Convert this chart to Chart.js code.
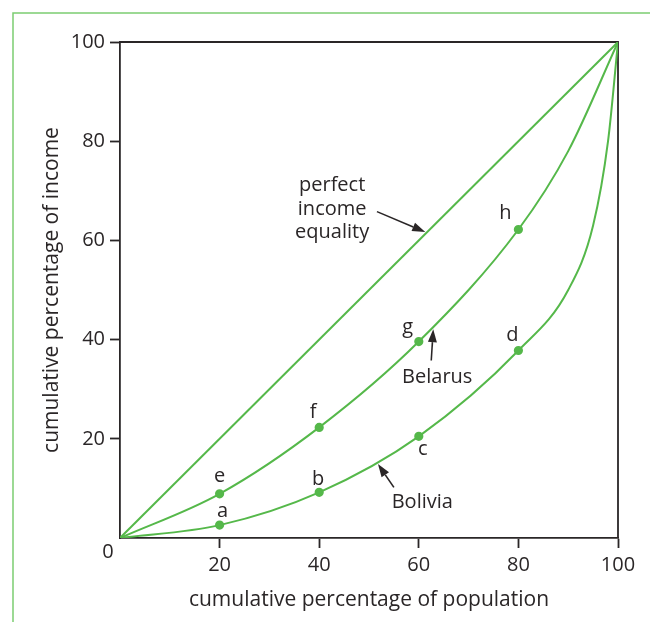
<!DOCTYPE html>
<html>
<head>
<meta charset="utf-8">
<script src="https://cdn.jsdelivr.net/npm/chart.js@4"></script>
<style>
  body { margin: 0; background: #fff; }
  #wrap { width: 650px; height: 622px; }
</style>
</head>
<body>
<div id="wrap"><canvas id="lorenzChart"></canvas></div>
<script>
// dati (percentuali cumulative)
const equalityX = [0, 100];
const equalityY = [0, 100];

const belarusX = [0, 20, 40, 60, 80, 90, 100];
const belarusY = [0, 8.9, 22.3, 39.6, 62.2, 78, 100];
const belarusMarks = ['', 'e', 'f', 'g', 'h', '', ''];

const boliviaX = [0, 20, 40, 60, 80, 90, 95, 98, 100];
const boliviaY = [0, 2.6, 9.2, 20.5, 37.8, 50, 63, 80, 100];
const boliviaMarks = ['', 'a', 'b', 'c', 'd', '', '', '', ''];

const tickValues = [0, 20, 40, 60, 80, 100];

const GREEN = '#55b84a';
const INK = '#2a2627';
const FONT = "'Open Sans', sans-serif";

// posizione delle lettere rispetto al punto (pixel, linea di base)
const markOffsets = {
  a: [3, -8], b: [-1, -7], c: [4, 19], d: [-6, -10],
  e: [0, -12], f: [-6, -9], g: [-11, -9], h: [-13, -10]
};

// testi e frecce in coordinate dei dati
const notes = [
  { text: 'perfect', x: 42.6, y: 69.9 },
  { text: 'income', x: 42.6, y: 65.2 },
  { text: 'equality', x: 42.6, y: 60.4 },
  { text: 'Belarus', x: 63.7, y: 31.2 },
  { text: 'Bolivia', x: 60.7, y: 6.0 }
];
const arrows = [
  { from: [51.6, 65.8], to: [61.3, 61.7] },
  { from: [62.5, 35.8], to: [62.9, 42.1] },
  { from: [55.0, 10.2], to: [51.8, 14.9] }
];

const toPoints = (xs, ys) => xs.map((x, i) => ({ x: x, y: ys[i] }));

const extras = {
  id: 'extras',
  beforeDraw(chart) {
    const c = chart.ctx;
    c.save();
    c.strokeStyle = '#7ccd72';
    c.lineWidth = 1.5;
    c.beginPath();
    c.moveTo(13, 622);
    c.lineTo(13, 13);
    c.lineTo(650, 13);
    c.stroke();
    c.restore();
  },
  beforeDatasetsDraw(chart) {
    const a = chart.chartArea;
    const c = chart.ctx;
    c.save();
    c.strokeStyle = INK;
    c.lineWidth = 1.8;
    c.beginPath();
    c.moveTo(a.left, a.top);
    c.lineTo(a.right, a.top);
    c.lineTo(a.right, a.bottom);
    c.stroke();
    c.restore();
  },
  afterDatasetsDraw(chart) {
    const c = chart.ctx;
    const xs = chart.scales.x;
    const ys = chart.scales.y;
    c.save();
    c.fillStyle = INK;
    c.font = '20px ' + FONT;
    c.textAlign = 'center';
    c.textBaseline = 'alphabetic';

    // lettere sui punti
    const drawMarks = (xArr, yArr, marks) => {
      marks.forEach((m, i) => {
        if (!m) return;
        const off = markOffsets[m];
        c.fillText(m, xs.getPixelForValue(xArr[i]) + off[0], ys.getPixelForValue(yArr[i]) + off[1]);
      });
    };
    drawMarks(belarusX, belarusY, belarusMarks);
    drawMarks(boliviaX, boliviaY, boliviaMarks);

    notes.forEach(n => {
      c.fillText(n.text, xs.getPixelForValue(n.x), ys.getPixelForValue(n.y));
    });

    // zero all'origine
    c.textBaseline = 'middle';
    c.fillText('0', xs.getPixelForValue(0) - 12, ys.getPixelForValue(0) + 14);

    // frecce
    c.strokeStyle = INK;
    c.lineWidth = 1.6;
    arrows.forEach(ar => {
      const x1 = xs.getPixelForValue(ar.from[0]), y1 = ys.getPixelForValue(ar.from[1]);
      const x2 = xs.getPixelForValue(ar.to[0]), y2 = ys.getPixelForValue(ar.to[1]);
      const ang = Math.atan2(y2 - y1, x2 - x1);
      const len = 13, half = 4.5;
      const bx = x2 - len * Math.cos(ang), by = y2 - len * Math.sin(ang);
      c.beginPath();
      c.moveTo(x1, y1);
      c.lineTo(bx, by);
      c.stroke();
      c.beginPath();
      c.moveTo(x2, y2);
      c.lineTo(bx + half * Math.sin(ang), by - half * Math.cos(ang));
      c.lineTo(bx - half * Math.sin(ang), by + half * Math.cos(ang));
      c.closePath();
      c.fill();
    });
    c.restore();
  }
};

const lineStyle = {
  borderColor: GREEN,
  backgroundColor: GREEN,
  borderWidth: 2,
  fill: false,
  cubicInterpolationMode: 'monotone',
  pointHoverRadius: 0
};

const ctx = document.getElementById('lorenzChart').getContext('2d');
const lorenzChart = new Chart(ctx, {
  type: 'line',
  data: {
    datasets: [
      Object.assign({}, lineStyle, {
        label: 'perfect income equality',
        data: toPoints(equalityX, equalityY),
        pointRadius: 0
      }),
      Object.assign({}, lineStyle, {
        label: 'Belarus',
        data: toPoints(belarusX, belarusY),
        pointRadius: belarusMarks.map(m => m ? 3.6 : 0)
      }),
      Object.assign({}, lineStyle, {
        label: 'Bolivia',
        data: toPoints(boliviaX, boliviaY),
        pointRadius: boliviaMarks.map(m => m ? 3.6 : 0)
      })
    ]
  },
  options: {
    responsive: true,
    maintainAspectRatio: false,
    animation: false,
    layout: { padding: { left: 0, top: 42, right: 32, bottom: 0 } },
    plugins: { legend: { display: false }, tooltip: { enabled: false } },
    scales: {
      x: {
        type: 'linear',
        min: 0, max: 100,
        afterFit: s => { s.height = 84; },
        afterBuildTicks: s => { s.ticks = tickValues.map(v => ({ value: v })); },
        border: { display: true, color: INK, width: 1.8 },
        grid: {
          drawOnChartArea: false,
          tickLength: 10,
          tickWidth: 1.8,
          tickColor: c => c.tick && c.tick.value === 0 ? 'rgba(0,0,0,0)' : INK
        },
        ticks: {
          color: INK,
          padding: 5,
          font: { family: FONT, size: 20 },
          callback: v => v === 0 ? '' : v
        },
        title: {
          display: true,
          text: 'cumulative percentage of population',
          color: INK,
          font: { family: FONT, size: 21 },
          padding: { bottom: 9 }
        }
      },
      y: {
        type: 'linear',
        min: 0, max: 100,
        afterFit: s => { s.width = 120; },
        afterBuildTicks: s => { s.ticks = tickValues.map(v => ({ value: v })); },
        border: { display: true, color: INK, width: 1.8 },
        grid: {
          drawOnChartArea: false,
          tickLength: 10,
          tickWidth: 1.8,
          tickColor: c => c.tick && c.tick.value === 0 ? 'rgba(0,0,0,0)' : INK
        },
        ticks: {
          color: INK,
          padding: 5,
          font: { family: FONT, size: 20 },
          callback: v => v === 0 ? '' : v
        },
        title: {
          display: true,
          text: 'cumulative percentage of income',
          color: INK,
          font: { family: FONT, size: 21 },
          padding: { top: 39 }
        }
      }
    }
  },
  plugins: [extras]
});
</script>
</body>
</html>
